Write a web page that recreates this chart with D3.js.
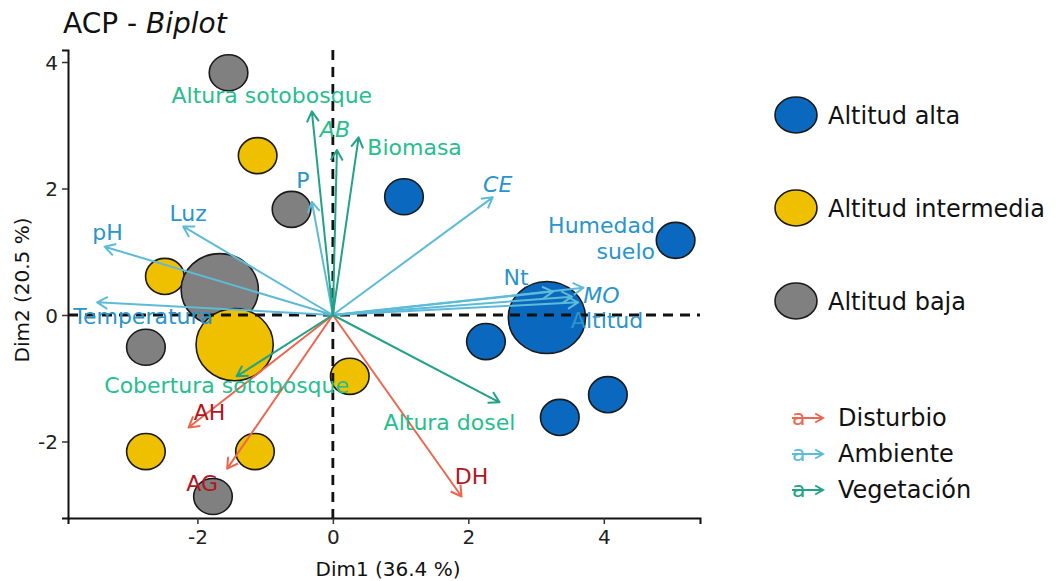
<!DOCTYPE html>
<html>
<head>
<meta charset="utf-8">
<script src="https://cdn.jsdelivr.net/npm/d3@7"></script>
<style>
  body { margin: 0; background: #fff; }
  svg { font-family: "DejaVu Sans", Verdana, sans-serif; }
</style>
</head>
<body>
<div id="vis"></div>
<script>
// sites (individuals) on the first two PCA dimensions
var siteGroup = ["alta","alta","alta","alta","alta","alta",
                 "intermedia","intermedia","intermedia","intermedia","intermedia",
                 "baja","baja","baja","baja",
                 "baja","intermedia"];
var siteDim1  = [1.05, 5.06, 3.16, 2.26, 3.35, 4.06,
                 -1.11, -2.48, 0.25, -2.76, -1.15,
                 -1.54, -0.61, -2.76, -1.77,
                 -1.67, -1.45];
var siteDim2  = [1.87, 1.18, -0.04, -0.42, -1.62, -1.26,
                 2.52, 0.61, -0.97, -2.16, -2.16,
                 3.83, 1.67, -0.51, -2.87,
                 0.40, -0.47];
var siteSize  = [1, 1, 2, 1, 1, 1,
                 1, 1, 1, 1, 1,
                 1, 1, 1, 1,
                 2, 2];

// variables (arrows)
var varName  = ["AH", "AG", "DH",
                "pH", "Luz", "Temperatura", "P", "CE", "Nt", "Humedad suelo", "MO", "Altitud",
                "Altura sotobosque", "AB", "Biomasa", "Cobertura sotobosque", "Altura dosel"];
var varGroup = ["Disturbio", "Disturbio", "Disturbio",
                "Ambiente", "Ambiente", "Ambiente", "Ambiente", "Ambiente", "Ambiente", "Ambiente", "Ambiente", "Ambiente",
                "Vegetación", "Vegetación", "Vegetación", "Vegetación", "Vegetación"];
var varDim1  = [-2.13, -1.56, 1.90,
                -3.37, -2.21, -3.48, -0.31, 2.36, 3.25, 3.53, 3.70, 3.62,
                -0.31, 0.06, 0.38, -1.42, 2.46];
var varDim2  = [-1.78, -2.43, -2.87,
                1.08, 1.40, 0.20, 1.79, 1.86, 0.37, 0.29, 0.43, 0.20,
                3.22, 2.61, 2.81, -0.97, -1.38];
var italicVars = ["CE", "MO", "AB"];

var xTicks = [-2, 0, 2, 4];
var yTicks = [-2, 0, 2, 4];
var altLevels = ["alta", "intermedia", "baja"];
var altLabels = ["Altitud alta", "Altitud intermedia", "Altitud baja"];
var varGroups = ["Disturbio", "Ambiente", "Vegetación"];

// label placement around each arrow tip (pixels)
var labelPos = {
  "AH": [21, -15], "AG": [-25, 14], "DH": [10, -20],
  "pH": [3, -15], "Luz": [5, -13], "Temperatura": [46, 14], "P": [-9, -22],
  "CE": [5, -13], "Nt": [-37, -15], "Humedad suelo": [83, -72], "MO": [18, 7], "Altitud": [29, 18],
  "Altura sotobosque": [-40, -16], "AB": [-2, -21], "Biomasa": [56, 10],
  "Cobertura sotobosque": [-10, 9], "Altura dosel": [-50, 20]
};

var fillCol = {alta: "#0a69bf", intermedia: "#efc000", baja: "#808080"};
var arrowCol = {"Disturbio": "#ec6650", "Ambiente": "#5dbbd8", "Vegetación": "#22a287"};
var textCol = {"Disturbio": "#b3161c", "Ambiente": "#2a94cc", "Vegetación": "#26be8e"};

var W = 1058, H = 581;
var svg = d3.select("#vis").append("svg")
    .attr("width", W).attr("height", H);

var x = d3.scaleLinear().domain([-3.91, 5.42]).range([68, 700]);
var y = d3.scaleLinear().domain([-3.21, 4.19]).range([518, 50]);
var r = d3.scaleLinear().domain([0, 2]).range([0, 0.57]);

// title
var title = svg.append("text")
    .attr("x", 63).attr("y", 33)
    .style("font-size", "28px").attr("fill", "#111");
title.append("tspan").text("ACP - ");
title.append("tspan").style("font-style", "italic").text("Biplot");

// axes
var fmt = function(d) { return String(d); };
var xAxis = svg.append("g")
    .attr("transform", "translate(0,518)")
    .call(d3.axisBottom(x).tickValues(xTicks).tickFormat(fmt).tickSizeOuter(0).tickSize(6).tickPadding(6));
var yAxis = svg.append("g")
    .attr("transform", "translate(68,0)")
    .call(d3.axisLeft(y).tickValues(yTicks).tickFormat(fmt).tickSizeOuter(0).tickSize(6).tickPadding(4));
[xAxis, yAxis].forEach(function(a) {
  a.select(".domain").attr("stroke", "#111").attr("stroke-width", 2);
  a.selectAll(".tick line").attr("stroke", "#333").attr("stroke-width", 1.5);
  a.selectAll(".tick text").style("font-size", "20px").attr("fill", "#222")
    .style("font-family", "DejaVu Sans, Verdana, sans-serif");
});
yAxis.selectAll(".tick text").attr("dy", "0.36em");

svg.append("text")
    .attr("x", 388).attr("y", 576)
    .attr("text-anchor", "middle")
    .style("font-size", "20px").attr("fill", "#111")
    .text("Dim1 (36.4 %)");
svg.append("text")
    .attr("transform", "translate(29,290) rotate(-90)")
    .attr("text-anchor", "middle")
    .style("font-size", "20px").attr("fill", "#111")
    .text("Dim2 (20.5 %)");

// sites
var sites = siteGroup.map(function(g, i) {
  return {group: g, d1: siteDim1[i], d2: siteDim2[i], size: siteSize[i]};
});
svg.append("g").selectAll("ellipse")
    .data(sites)
    .enter().append("ellipse")
    .attr("cx", function(d) { return x(d.d1); })
    .attr("cy", function(d) { return y(d.d2); })
    .attr("rx", function(d) { return x(r(d.size)) - x(0); })
    .attr("ry", function(d) { return y(0) - y(r(d.size)); })
    .attr("fill", function(d) { return fillCol[d.group]; })
    .attr("stroke", "#1a1a1a")
    .attr("stroke-width", 1.6);

// reference lines
svg.append("line")
    .attr("x1", x(0)).attr("x2", x(0)).attr("y1", 50).attr("y2", 518)
    .attr("stroke", "#111").attr("stroke-width", 2.8).attr("stroke-dasharray", "10,7");
svg.append("line")
    .attr("x1", 68).attr("x2", 700).attr("y1", y(0)).attr("y2", y(0))
    .attr("stroke", "#111").attr("stroke-width", 2.8).attr("stroke-dasharray", "10,7");

// arrows
function arrowPath(x0, y0, x1, y1, len) {
  var a = Math.atan2(y1 - y0, x1 - x0), s = Math.PI / 6;
  return "M" + x0 + "," + y0 + "L" + x1 + "," + y1 +
    "M" + (x1 - len * Math.cos(a - s)) + "," + (y1 - len * Math.sin(a - s)) +
    "L" + x1 + "," + y1 +
    "L" + (x1 - len * Math.cos(a + s)) + "," + (y1 - len * Math.sin(a + s));
}

var vars = varName.map(function(n, i) {
  return {name: n, group: varGroup[i], d1: varDim1[i], d2: varDim2[i]};
});

svg.append("g").selectAll("path")
    .data(vars)
    .enter().append("path")
    .attr("d", function(d) { return arrowPath(x(0), y(0), x(d.d1), y(d.d2), 12); })
    .attr("fill", "none")
    .attr("stroke", function(d) { return arrowCol[d.group]; })
    .attr("stroke-width", 2)
    .attr("stroke-linejoin", "round");

var labels = svg.append("g").selectAll("text")
    .data(vars)
    .enter().append("text")
    .attr("x", function(d) { return x(d.d1) + labelPos[d.name][0]; })
    .attr("y", function(d) { return y(d.d2) + labelPos[d.name][1]; })
    .attr("dy", "0.36em")
    .attr("text-anchor", function(d) { return d.name == "Humedad suelo" ? "end" : "middle"; })
    .style("font-size", "22px")
    .style("font-style", function(d) { return italicVars.indexOf(d.name) >= 0 ? "italic" : "normal"; })
    .attr("fill", function(d) { return textCol[d.group]; })
    .each(function(d) {
      var t = d3.select(this);
      if (d.name == "Humedad suelo") {
        var px = x(d.d1) + labelPos[d.name][0];
        t.append("tspan").attr("x", px).text("Humedad");
        t.append("tspan").attr("x", px).attr("dy", "1.2em").text("suelo");
      } else {
        t.text(d.name);
      }
    });

// legend: altitude
var leg1 = svg.append("g");
altLevels.forEach(function(g, i) {
  var cy = 115 + i * 93;
  leg1.append("ellipse")
      .attr("cx", 796).attr("cy", cy).attr("rx", 21).attr("ry", 18)
      .attr("fill", fillCol[g]).attr("stroke", "#1a1a1a").attr("stroke-width", 1.6);
  leg1.append("text")
      .attr("x", 828).attr("y", cy).attr("dy", "0.36em")
      .style("font-size", "24px").attr("fill", "#111")
      .text(altLabels[i]);
});

// legend: variable groups
var leg2 = svg.append("g");
varGroups.forEach(function(g, i) {
  var cy = 417 + i * 36;
  leg2.append("text")
      .attr("x", 792).attr("y", cy).attr("dy", "0.36em")
      .style("font-size", "22px").attr("fill", arrowCol[g])
      .text("a");
  leg2.append("path")
      .attr("d", arrowPath(792, cy + 1, 823, cy + 1, 9))
      .attr("fill", "none").attr("stroke", arrowCol[g]).attr("stroke-width", 2);
  leg2.append("text")
      .attr("x", 838).attr("y", cy).attr("dy", "0.36em")
      .style("font-size", "24px").attr("fill", "#111")
      .text(g);
});
</script>
</body>
</html>
